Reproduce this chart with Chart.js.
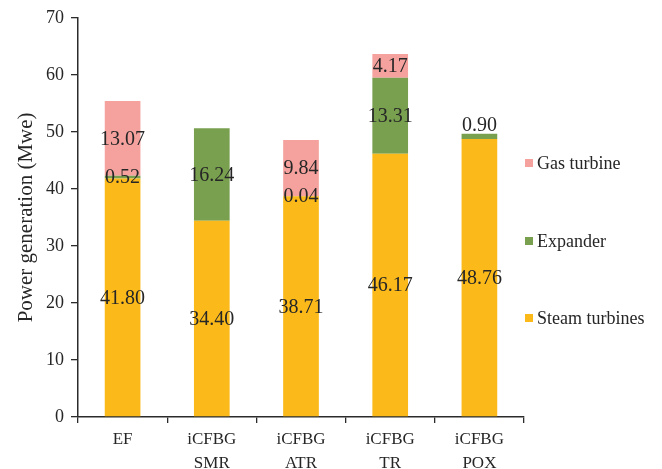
<!DOCTYPE html>
<html>
<head>
<meta charset="utf-8">
<script src="https://cdn.jsdelivr.net/npm/chart.js@4"></script>
<style>
  html, body { margin: 0; padding: 0; background: #ffffff; }
  #wrap { width: 662px; height: 469px; }
</style>
</head>
<body>
<div id="wrap"><canvas id="chart" width="662" height="469"></canvas></div>
<script>
// Plant configurations (two-line axis labels)
const categories = [['EF'], ['iCFBG', 'SMR'], ['iCFBG', 'ATR'], ['iCFBG', 'TR'], ['iCFBG', 'POX']];

// Power generation by unit, MWe
const steamTurbines = [41.80, 34.40, 38.71, 46.17, 48.76];
const expander      = [0.52, 16.24, 0.04, 13.31, 0.90];
const gasTurbine    = [13.07, null, 9.84, 4.17, null];

// Y axis range and step
const yMin = 0, yMax = 70, yStep = 10;

const FONT = "'Liberation Serif', 'Times New Roman', serif";
const TEXT = '#262626';
const AXIS = '#2b2b2b';

// Value labels centred on each segment; a thin segment on top of a stack gets its label above it
const segmentLabels = {
  id: 'segmentLabels',
  afterDatasetsDraw(chart) {
    const ctx = chart.ctx;
    ctx.save();
    ctx.font = '20px ' + FONT;
    ctx.fillStyle = TEXT;
    ctx.textAlign = 'center';
    ctx.textBaseline = 'middle';
    const n = chart.data.datasets.length;
    chart.data.datasets.forEach((ds, di) => {
      const meta = chart.getDatasetMeta(di);
      meta.data.forEach((el, idx) => {
        const v = ds.data[idx];
        if (v === null || v === undefined) return;
        let isTop = true;
        for (let k = di + 1; k < n; k++) {
          const w = chart.data.datasets[k].data[idx];
          if (w !== null && w !== undefined && w !== 0) isTop = false;
        }
        const h = Math.abs(el.base - el.y);
        let y = (el.y + el.base) / 2;
        if (isTop && h < 20) y = el.y - 9;
        ctx.fillText(v.toFixed(2), el.x, y + 1);
      });
    });
    ctx.restore();
  }
};

// Legend in the right margin, top series first
const sideLegend = {
  id: 'sideLegend',
  afterDraw(chart) {
    const ctx = chart.ctx;
    const area = chart.chartArea;
    const items = chart.data.datasets.map(d => ({ label: d.label, color: d.backgroundColor })).reverse();
    const rowY = [163, 241, 318];
    ctx.save();
    ctx.font = '18px ' + FONT;
    ctx.textAlign = 'left';
    ctx.textBaseline = 'middle';
    items.forEach((it, i) => {
      const y = rowY[i];
      ctx.fillStyle = it.color;
      ctx.fillRect(area.right + 1, y - 4, 8, 8);
      ctx.fillStyle = TEXT;
      ctx.fillText(it.label, area.right + 13, y + 1);
    });
    ctx.restore();
  }
};

new Chart(document.getElementById('chart'), {
  type: 'bar',
  data: {
    labels: categories,
    datasets: [
      { label: 'Steam turbines', data: steamTurbines, backgroundColor: '#FBBA1A' },
      { label: 'Expander', data: expander, backgroundColor: '#78A04F' },
      { label: 'Gas turbine', data: gasTurbine, backgroundColor: '#F5A29E' }
    ]
  },
  options: {
    responsive: false,
    animation: false,
    devicePixelRatio: 1,
    layout: { padding: { top: 17, right: 138, left: 0, bottom: 0 } },
    datasets: { bar: { categoryPercentage: 1.0, barPercentage: 0.4, borderWidth: 0 } },
    plugins: {
      legend: { display: false },
      tooltip: { enabled: false }
    },
    scales: {
      x: {
        stacked: true,
        grid: { display: true, drawOnChartArea: false, drawTicks: true, tickLength: 6, color: AXIS, lineWidth: 1.3 },
        border: { display: true, color: AXIS, width: 1.5 },
        ticks: { color: TEXT, padding: 5, font: { family: FONT, size: 17, lineHeight: 1.4 }, maxRotation: 0, autoSkip: false },
        afterFit(scale) { scale.height = 52; }
      },
      y: {
        stacked: true,
        min: yMin,
        max: yMax,
        grid: { display: true, drawOnChartArea: false, drawTicks: true, tickLength: 7, color: AXIS, lineWidth: 1.3 },
        border: { display: true, color: AXIS, width: 1.5 },
        ticks: { stepSize: yStep, color: TEXT, padding: 7, font: { family: FONT, size: 18 } },
        title: {
          display: true,
          text: 'Power generation (Mwe)',
          color: TEXT,
          font: { family: FONT, size: 21 },
          padding: { top: 14, bottom: 0 }
        },
        afterFit(scale) { scale.width = 78; }
      }
    }
  },
  plugins: [segmentLabels, sideLegend]
});
</script>
</body>
</html>
